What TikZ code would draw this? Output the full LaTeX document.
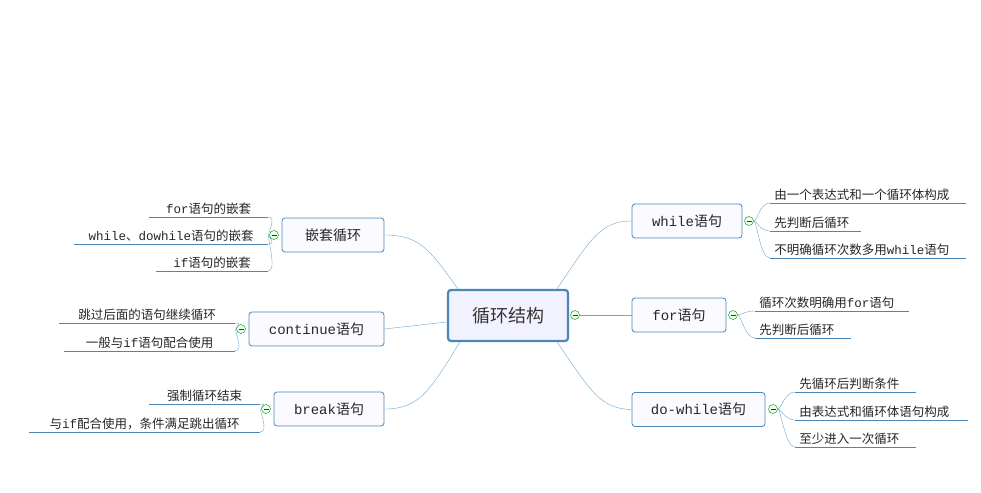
\documentclass[tikz,border=0pt]{standalone}
\usepackage{fontspec}
\setmainfont{Noto Sans CJK SC}
\newfontfamily\mn{Liberation Mono}
\newcommand\m[1]{{\mn #1}}
\definecolor{lc}{HTML}{4A86B8}
\definecolor{cl}{HTML}{6FA6CF}
\begin{document}
\begin{tikzpicture}[x=1pt,y=-1pt,
  main/.style={draw=lc, fill=blue!2, rounded corners=3pt, line width=0.8pt, font=\fontsize{14}{16}\selectfont, text=black!85, inner sep=0pt, minimum height=34pt},
  leaf/.style={font=\fontsize{12.5}{14}\selectfont, text=black!85, inner sep=2pt, inner xsep=4pt},
  col/.style={circle, draw=green!55!black, fill=green!8, minimum size=9pt, inner sep=0pt,
    path picture={\draw[green!35!black, line width=0.6pt] ([xshift=-2.5pt]path picture bounding box.center) -- ([xshift=2.5pt]path picture bounding box.center);}}]
\useasboundingbox (0,0) rectangle (981,492);
\tikzset{line width=0.7pt}
% center
\node[draw=lc, fill=blue!5, rounded corners=3pt, line width=2.2pt, minimum width=120pt, minimum height=51pt, font=\fontsize{18}{20}\selectfont, text=black!80] (ctr) at (508,315.5) {循环结构};
\node[col] (cc) at (575,315) {};
% main nodes
\node[main, minimum width=110pt] (wh) at (687,221) {\m{while}语句};
\node[main, minimum width=94pt] (fo) at (679,315) {\m{for}语句};
\node[main, minimum width=133pt] (dw) at (698.5,409.5) {\m{do-while}语句};
\node[main, minimum width=102pt] (nt) at (333,235) {嵌套循环};
\node[main, minimum width=135pt] (co) at (316.5,329) {\m{continue}语句};
\node[main, minimum width=110pt] (br) at (329,409) {\m{break}语句};
\draw[cl] (cc) -- (fo.west);
\draw[cl] (557,289) .. controls (590,240) and (600,221) .. (wh.west);
\draw[cl] (557,342) .. controls (590,390) and (600,409) .. (dw.west);
\draw[cl] (458,289) .. controls (430,250) and (420,235) .. (nt.east);
\draw[cl] (ctr.west |- 0,322) -- (co.east);
\draw[cl] (460,342) .. controls (430,390) and (420,409) .. (br.east);
% collapse circles
\node[col] (c1) at (749,221) {};
\node[col] (c2) at (733,315) {};
\node[col] (c3) at (773,409) {};
\node[col] (c4) at (274,235) {};
\node[col] (c5) at (241,329) {};
\node[col] (c6) at (266,409) {};
\newcommand\rleaf[5]{%
  \node[leaf, anchor=south west, minimum width=#4pt, align=left, text width=#4pt-8pt] (#2) at (#3) {#5};
  \draw[cl] (#1) .. controls ([xshift=8pt]#1) and ([xshift=-10pt]#2.south west) .. (#2.south west);
  \draw[lc] (#2.south west) -- (#2.south east);}
\newcommand\lleaf[5]{%
  \node[leaf, anchor=south east, minimum width=#4pt] (#2) at (#3) {#5};
  \draw[cl] (#1) .. controls ([xshift=-8pt]#1) and ([xshift=10pt]#2.south east) .. (#2.south east);
  \draw[lc] (#2.south west) -- (#2.south east);}
\rleaf{c1}{w1}{770,203}{195}{由一个表达式和一个循环体构成}
\rleaf{c1}{w2}{770,231}{90}{先判断后循环}
\rleaf{c1}{w3}{770,258}{195}{不明确循环次数多用\m{while}语句}
\rleaf{c2}{f1}{755,311}{153}{循环次数明确用\m{for}语句}
\rleaf{c2}{f2}{755,338}{95}{先判断后循环}
\rleaf{c3}{d1}{795,392}{120}{先循环后判断条件}
\rleaf{c3}{d2}{795,420}{172}{由表达式和循环体语句构成}
\rleaf{c3}{d3}{795,447}{120}{至少进入一次循环}
\lleaf{c4}{n1}{268,217}{118}{\m{for}语句的嵌套}
\lleaf{c4}{n2}{268,244}{193}{\m{while}、\m{dowhile}语句的嵌套}
\lleaf{c4}{n3}{268,271}{111}{\m{if}语句的嵌套}
\lleaf{c5}{o1}{235,323}{175}{跳过后面的语句继续循环}
\lleaf{c5}{o2}{235,351}{170}{一般与\m{if}语句配合使用}
\lleaf{c6}{b1}{260,404}{110}{强制循环结束}
\lleaf{c6}{b2}{260,432}{230}{与\m{if}配合使用，条件满足跳出循环}
\end{tikzpicture}
\end{document}
